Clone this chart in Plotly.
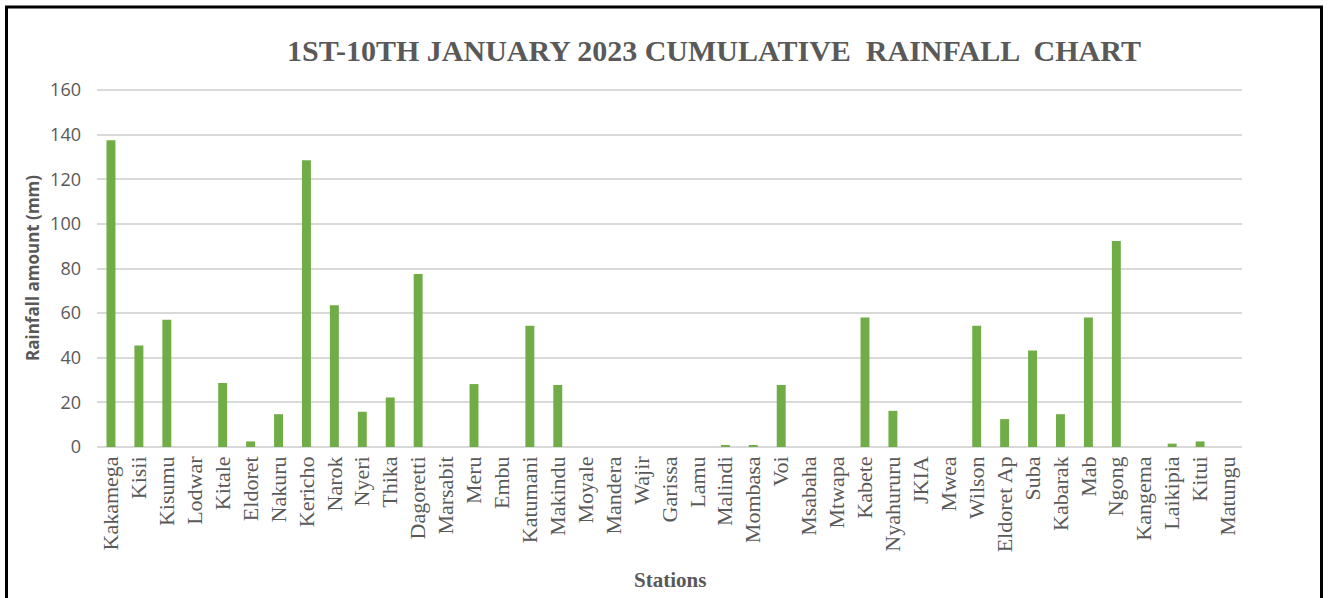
import plotly.graph_objects as go

stations = ["Kakamega", "Kisii", "Kisumu", "Lodwar", "Kitale", "Eldoret", "Nakuru", "Kericho",
            "Narok", "Nyeri", "Thika", "Dagoretti", "Marsabit", "Meru", "Embu", "Katumani",
            "Makindu", "Moyale", "Mandera", "Wajir", "Garissa", "Lamu", "Malindi", "Mombasa",
            "Voi", "Msabaha", "Mtwapa", "Kabete", "Nyahururu", "JKIA", "Mwea", "Wilson",
            "Eldoret Ap", "Suba", "Kabarak", "Mab", "Ngong", "Kangema", "Laikipia", "Kitui",
            "Matungu"]
rainfall = [137.5, 45.5, 57.0, 0, 28.7, 2.5, 14.7, 128.5,
            63.5, 15.8, 22.2, 77.5, 0, 28.2, 0, 54.3,
            27.8, 0, 0, 0, 0, 0, 0.8, 0.8,
            27.8, 0, 0, 58.0, 16.2, 0, 0, 54.3,
            12.5, 43.3, 14.7, 58.0, 92.3, 0, 1.5, 2.5,
            0]
y_ticks = [0, 20, 40, 60, 80, 100, 120, 140, 160]

W, H = 1328, 598
ml, mr, mt, mb = 97, 86, 83, 151
pw, ph = W - ml - mr, H - mt - mb
y_top = 160 * ph / 357.0  # keep 160 gridline at same pixel row, inside the plot

def px(x):
    return (x - ml) / pw

def py(y):
    return (H - mb - y) / ph

fig = go.Figure()
fig.add_trace(go.Bar(x=stations, y=rainfall, marker=dict(color="#70AD47", line=dict(width=0))))

grey = "#595959"
fig.update_layout(
    width=W, height=H,
    margin=dict(l=ml, r=mr, t=mt, b=mb),
    paper_bgcolor="white", plot_bgcolor="white",
    bargap=0.68,
    showlegend=False,
    title=dict(text="<b>1ST-10TH JANUARY 2023 CUMULATIVE  RAINFALL  CHART</b>",
               x=714 / W, xanchor="center", y=1 - 50 / H, yanchor="middle",
               xref="container", yref="container",
               font=dict(family="Liberation Serif", size=30, color=grey)),
    xaxis=dict(tickangle=-90, tickfont=dict(family="Liberation Serif", size=22, color=grey),
               showgrid=False, showline=False, ticks="", ticklen=0, ticklabelstandoff=4),
    yaxis=dict(range=[0, y_top], tickvals=y_ticks, showgrid=True, gridcolor="#D9D9D9", gridwidth=2,
               zeroline=True, zerolinecolor="#D9D9D9", zerolinewidth=2,
               tickfont=dict(family="Open Sans", size=18, color=grey), ticks="", showline=False,
               ticklabelstandoff=15),
)

fig.add_annotation(text="<b>Rainfall amount (mm)</b>", xref="paper", yref="paper",
                   x=px(32), y=py(268), textangle=-90, showarrow=False,
                   xanchor="center", yanchor="middle",
                   font=dict(family="Open Sans", size=17, color=grey))
fig.add_annotation(text="<b>Stations</b>", xref="paper", yref="paper",
                   x=px(670), y=py(580), showarrow=False, xanchor="center", yanchor="middle",
                   font=dict(family="Liberation Serif", size=21, color=grey))

fig.add_shape(type="rect", xref="paper", yref="paper",
              x0=px(6.5), x1=px(1321.5), y0=py(7), y1=py(640),
              line=dict(color="black", width=3), fillcolor="rgba(0,0,0,0)", layer="above")

fig.write_html("out.html")
